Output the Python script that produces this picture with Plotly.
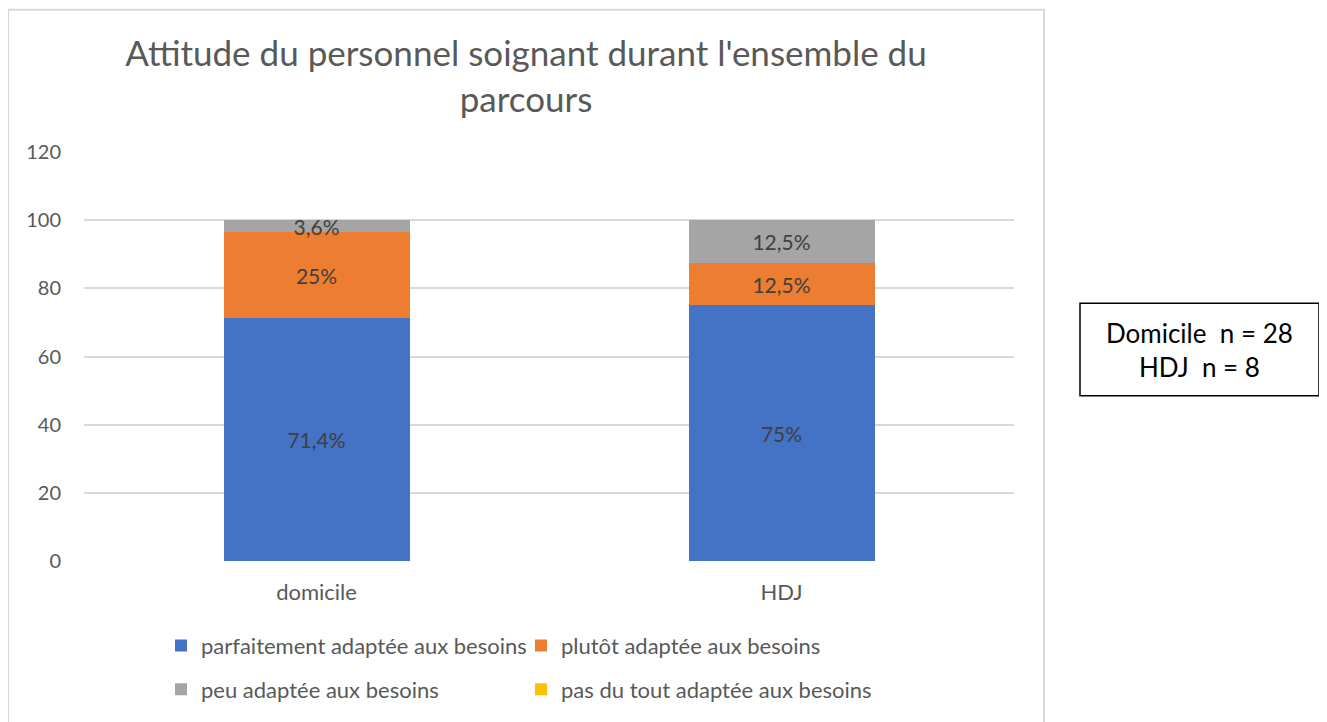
import plotly.graph_objects as go

categories = ["domicile", "HDJ"]
series_names = [
    "parfaitement adaptée aux besoins",
    "plutôt adaptée aux besoins",
    "peu adaptée aux besoins",
    "pas du tout adaptée aux besoins",
]
parfaitement = [71.4, 75.0]
plutot = [25.0, 12.5]
peu = [3.6, 12.5]
pas_du_tout = [0.0, 0.0]
labels_parfaitement = ["71,4%", "75%"]
labels_plutot = ["25%", "12,5%"]
labels_peu = ["3,6%", "12,5%"]
labels_pas = ["", ""]
y_ticks = [0, 20, 40, 60, 80, 100, 120]
title_text = "Attitude du personnel soignant durant l'ensemble du<br>parcours"
box_text = "Domicile  n = 28<br>HDJ  n = 8"

colors = ["#4472C4", "#ED7D31", "#A5A5A5", "#FFC000"]
values = [parfaitement, plutot, peu, pas_du_tout]
labels = [labels_parfaitement, labels_plutot, labels_peu, labels_pas]
legends = ["legend", "legend", "legend2", "legend2"]

FONT = "Lato"
OFF = 8  # page body margin
W, H = 1327 - OFF, 722 - OFF
L, R, T, B = 84 - OFF, 1014 - OFF, 152 - OFF, 563 - OFF
pw, ph = R - L, B - T

def px(x):
    return (x - OFF - L) / pw

def py(y):
    return (B - (y - OFF)) / ph

fig = go.Figure()
for name, vals, lab, col, lg in zip(series_names, values, labels, colors, legends):
    fig.add_trace(go.Bar(
        x=categories, y=vals, name=name, text=lab,
        textposition="inside", insidetextanchor="middle",
        constraintext="none", cliponaxis=False,
        textfont=dict(family=FONT, size=21, color="#404040"),
        marker=dict(color=col, line=dict(width=0)),
        legend=lg,
    ))

fig.update_layout(
    width=W, height=H,
    margin=dict(l=L, r=W - R, t=T, b=H - B),
    barmode="stack", bargap=0.6,
    plot_bgcolor="white", paper_bgcolor="white",
    font=dict(family=FONT, color="#595959"),
    title=dict(text=title_text, x=(526 - OFF) / W, xanchor="center", xref="container",
               y=1 - 58 / H, yanchor="middle", yref="container",
               font=dict(family=FONT, size=35, color="#595959")),
    showlegend=True,
    legend=dict(orientation="h", x=px(161), xanchor="left", y=py(648), yanchor="middle",
                entrywidth=315, entrywidthmode="pixels", traceorder="normal",
                font=dict(family=FONT, size=22, color="#595959"), bgcolor="rgba(0,0,0,0)"),
    legend2=dict(orientation="h", x=px(161), xanchor="left", y=py(692), yanchor="middle",
                 entrywidth=315, entrywidthmode="pixels", traceorder="normal",
                 font=dict(family=FONT, size=22, color="#595959"), bgcolor="rgba(0,0,0,0)"),
    xaxis=dict(showgrid=False, showline=False, zeroline=False, ticks="",
               tickfont=dict(family=FONT, size=22, color="#595959"), ticklabelstandoff=16),
    yaxis=dict(range=[0, 120], tickvals=y_ticks, showgrid=True, gridcolor="#D9D9D9",
               gridwidth=1.5, zeroline=False, showline=False, ticks="",
               tickfont=dict(family=FONT, size=20, color="#595959"), ticklabelstandoff=22),
    shapes=[
        dict(type="rect", xref="paper", yref="paper", x0=px(8), x1=px(1044), y0=py(740), y1=py(9),
             line=dict(color="#D9D9D9", width=2), fillcolor="rgba(0,0,0,0)", layer="below"),
        dict(type="rect", xref="paper", yref="paper", x0=px(1080), x1=px(1319), y0=py(397), y1=py(304),
             line=dict(color="#000000", width=1.5), fillcolor="white"),
    ],
    annotations=[
        dict(text=box_text, xref="paper", yref="paper", x=px(1199.5), y=py(350.5),
             xanchor="center", yanchor="middle", showarrow=False, align="center",
             font=dict(family=FONT, size=26, color="#000000")),
    ],
)

fig.write_html("out.html")
